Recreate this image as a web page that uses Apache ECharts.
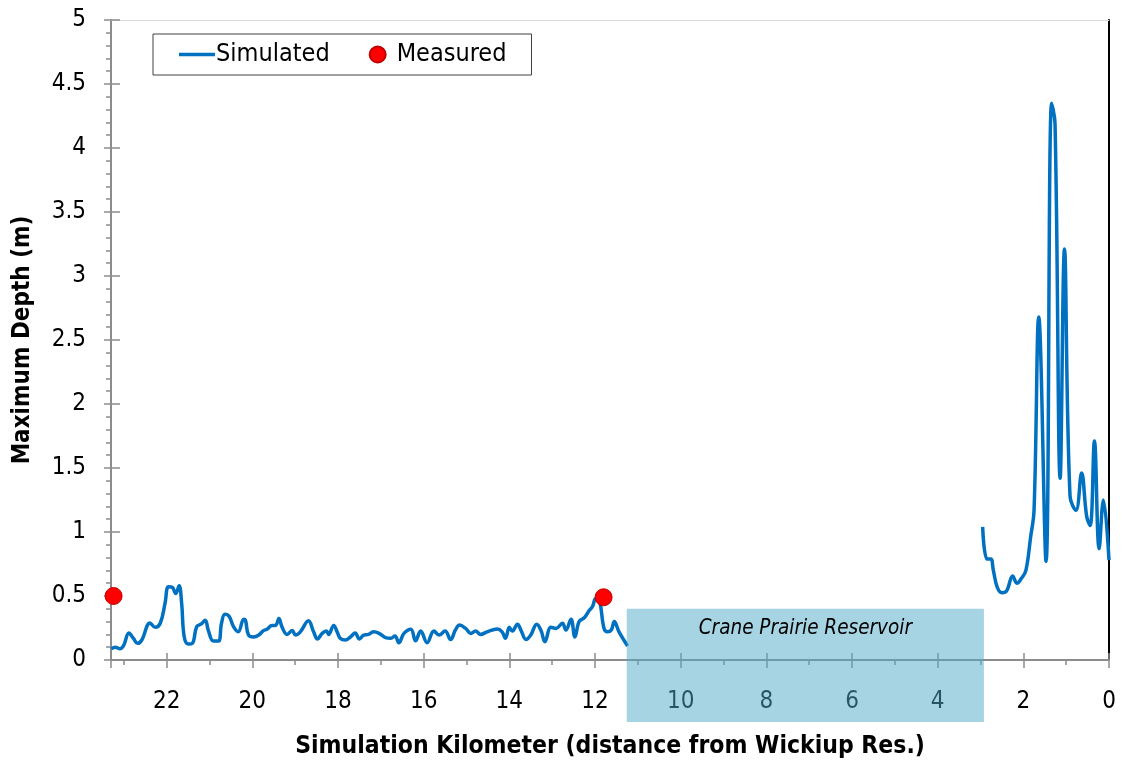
<!DOCTYPE html>
<html>
<head>
<meta charset="utf-8">
<script src="https://cdn.jsdelivr.net/npm/echarts@6/dist/echarts.min.js"></script>
<style>html,body{margin:0;padding:0;background:#fff;}#chart{width:1122px;height:768px;}</style>
</head>
<body>
<div id="chart"></div>
<script>
// Simulated, upstream reach (km from Wickiup Res.)
const simKmA = [23.29,23.2,23.09,23.01,22.88,22.78,22.68,22.58,22.39,22.27,22.15,22.04,21.96,21.87,21.79,21.71,21.65,21.59,21.49,21.4,21.3,21.2,21.1,21.03,20.91,20.79,20.72,20.64,20.54,20.44,20.33,20.2,20.16,20.09,19.97,19.85,19.74,19.66,19.54,19.46,19.38,19.31,19.19,19.07,18.99,18.88,18.69,18.57,18.48,18.37,18.27,18.22,18.1,18.02,17.95,17.83,17.71,17.6,17.5,17.4,17.29,17.17,17.04,16.89,16.77,16.67,16.58,16.46,16.3,16.19,16.07,15.92,15.76,15.64,15.5,15.37,15.26,15.16,15.02,14.9,14.79,14.67,14.52,14.28,14.17,14.09,14.0,13.93,13.81,13.73,13.61,13.5,13.36,13.26,13.17,13.03,12.91,12.76,12.68,12.56,12.47,12.37,12.25,12.14,12.06,11.98,11.9,11.79,11.71,11.62,11.55,11.44,11.24];
const simDepthA = [0.086,0.10,0.088,0.11,0.21,0.17,0.13,0.156,0.29,0.255,0.287,0.44,0.573,0.568,0.52,0.58,0.44,0.18,0.125,0.13,0.26,0.28,0.31,0.234,0.148,0.148,0.287,0.357,0.34,0.26,0.22,0.318,0.31,0.195,0.18,0.195,0.23,0.24,0.27,0.27,0.325,0.26,0.2,0.23,0.195,0.22,0.307,0.22,0.164,0.208,0.226,0.2,0.27,0.22,0.17,0.156,0.18,0.21,0.164,0.195,0.2,0.22,0.208,0.175,0.17,0.187,0.135,0.208,0.24,0.15,0.226,0.135,0.226,0.195,0.226,0.16,0.234,0.273,0.247,0.208,0.226,0.2,0.22,0.242,0.22,0.17,0.255,0.226,0.28,0.234,0.16,0.195,0.28,0.23,0.143,0.255,0.247,0.287,0.234,0.318,0.18,0.3,0.33,0.385,0.417,0.48,0.47,0.247,0.22,0.234,0.3,0.22,0.11];
// Simulated, downstream reach
const simKmB = [2.95,2.85,2.76,2.7,2.61,2.5,2.39,2.25,2.15,2.04,1.94,1.83,1.75,1.64,1.47,1.34,1.26,1.14,1.04,0.91,0.77,0.64,0.52,0.44,0.34,0.23,0.13,0.0];
const simDepthB = [1.04,0.79,0.79,0.70,0.57,0.526,0.54,0.656,0.6,0.64,0.70,0.96,1.17,2.68,0.77,4.35,4.19,1.42,3.21,1.28,1.17,1.46,1.12,1.05,1.71,0.87,1.25,0.78];
// Measured
const measuredKm = [23.24, 11.8];
const measuredDepth = [0.5, 0.49];
// Reservoir extent
const reservoirKm = [11.26, 2.92];
const reservoirTopDepth = 0.4;
const reservoirLabel = 'Crane Prairie Reservoir';
// Axes
const xMin = 0, xMax = 23.3, xInterval = 2;
const yMin = 0, yMax = 5, yInterval = 0.5;

const simData = simKmA.map((k, i) => [k, simDepthA[i]])
  .concat([[7, null]])
  .concat(simKmB.map((k, i) => [k, simDepthB[i]]));
const measData = measuredKm.map((k, i) => [k, measuredDepth[i]]);

const FONT = "'DejaVu Sans Condensed', 'DejaVu Sans', sans-serif";
const axisGray = '#8c8c8c';
const gridRect = { left: 111, right: 13, top: 20, bottom: 108, containLabel: false };

const chart = echarts.init(document.getElementById('chart'));
const option = {
  animation: false,
  backgroundColor: '#ffffff',
  grid: [Object.assign({}, gridRect), Object.assign({}, gridRect)],
  legend: {
    left: 153, top: 34,
    orient: 'horizontal',
    backgroundColor: '#fff',
    borderColor: '#404040', borderWidth: 1,
    padding: [8, 25, 8, 26],
    itemWidth: 36, itemHeight: 16, itemGap: 39,
    symbolKeepAspect: true,
    textStyle: { fontFamily: FONT, fontSize: 25, color: '#000', padding: [0, 0, 0, -4] },
    data: [
      { name: 'Simulated', icon: 'path://M0,0H36V3.5H0Z' },
      { name: 'Measured', icon: 'circle' }
    ]
  },
  xAxis: [
    {
      type: 'value', gridIndex: 0, position: 'bottom', inverse: true,
      min: xMin, max: xMax, interval: xInterval,
      axisLine: { show: true, onZero: false, lineStyle: { color: axisGray, width: 2 } },
      axisTick: { show: true, inside: false, length: 8, lineStyle: { color: axisGray, width: 1.5 } },
      minorTick: { show: true, splitNumber: 2, length: 5, lineStyle: { color: axisGray, width: 1.5 } },
      axisLabel: { margin: 30, fontFamily: FONT, fontSize: 24, color: '#000', showMaxLabel: false,
        formatter: v => (Math.abs(v % 2) < 1e-9 ? String(v) : '') },
      splitLine: { show: false },
      name: 'Simulation Kilometer (distance from Wickiup Res.)',
      nameLocation: 'middle', nameGap: 74,
      nameTextStyle: { fontFamily: FONT, fontSize: 24.5, fontWeight: 'bold', color: '#000' }
    },
    {
      type: 'value', gridIndex: 0, position: 'top', inverse: true, min: xMin, max: xMax,
      axisLine: { show: true, onZero: false, lineStyle: { color: '#d9d9d9', width: 1 } },
      axisTick: { show: false }, axisLabel: { show: false }, splitLine: { show: false }
    },
    {
      type: 'value', gridIndex: 1, position: 'bottom', inverse: true,
      min: xMin, max: xMax, interval: xInterval,
      axisLine: { show: false, onZero: false },
      axisTick: { show: true, inside: true, length: 7, lineStyle: { color: axisGray, width: 1.5 } },
      axisLabel: { show: false }, splitLine: { show: false }
    }
  ],
  yAxis: [
    {
      type: 'value', gridIndex: 0, position: 'left', min: yMin, max: yMax, interval: yInterval,
      axisLine: { show: true, onZero: false, lineStyle: { color: axisGray, width: 2 } },
      axisTick: { show: true, inside: false, length: 7, lineStyle: { color: axisGray, width: 1.5 } },
      minorTick: { show: true, splitNumber: 5, length: 5, lineStyle: { color: axisGray, width: 1.5 } },
      axisLabel: { margin: 25, fontFamily: FONT, fontSize: 24, color: '#000' },
      splitLine: { show: false },
      name: 'Maximum Depth (m)', nameLocation: 'middle', nameGap: 76,
      nameTextStyle: { fontFamily: FONT, fontSize: 24, fontWeight: 'bold', color: '#000' }
    },
    {
      type: 'value', gridIndex: 0, position: 'right', min: yMin, max: yMax,
      axisLine: { show: true, onZero: false, lineStyle: { color: '#000', width: 2 } },
      axisTick: { show: false }, axisLabel: { show: false }, splitLine: { show: false }
    },
    {
      type: 'value', gridIndex: 1, position: 'left', min: yMin, max: yMax, interval: yInterval,
      axisLine: { show: false, onZero: false },
      axisTick: { show: true, inside: true, length: 9, lineStyle: { color: axisGray, width: 1.5 } },
      axisLabel: { show: false }, splitLine: { show: false }
    }
  ],
  series: [
    {
      name: 'Simulated', type: 'line', xAxisIndex: 0, yAxisIndex: 0,
      data: simData, smooth: 0.4, connectNulls: false,
      symbol: 'none', showSymbol: false,
      lineStyle: { color: '#0070c0', width: 3.5 },
      itemStyle: { color: '#0070c0' }, z: 3
    },
    {
      name: 'Measured', type: 'scatter', xAxisIndex: 0, yAxisIndex: 0,
      data: measData, symbol: 'circle', symbolSize: 17,
      itemStyle: { color: '#ff0000', borderColor: '#c00000', borderWidth: 1, opacity: 1 }, z: 4
    }
  ]
};
chart.setOption(option);

const p1 = chart.convertToPixel({ xAxisIndex: 0, yAxisIndex: 0 }, [reservoirKm[0], reservoirTopDepth]);
const p2 = chart.convertToPixel({ xAxisIndex: 0, yAxisIndex: 0 }, [reservoirKm[1], 0]);
const boxBottom = p2[1] + 62;
chart.setOption({
  graphic: [
    {
      type: 'rect', z: 100, silent: true,
      shape: { x: p1[0], y: p1[1], width: p2[0] - p1[0], height: boxBottom - p1[1] },
      style: { fill: 'rgba(80,170,200,0.5)' }
    },
    {
      type: 'text', z: 101, silent: true,
      x: (p1[0] + p2[0]) / 2, y: p1[1] + 20,
      style: { text: reservoirLabel, fontFamily: FONT, fontSize: 20.5, fontStyle: 'italic',
        fill: '#000', align: 'center', verticalAlign: 'middle' }
    }
  ]
});
</script>
</body>
</html>
